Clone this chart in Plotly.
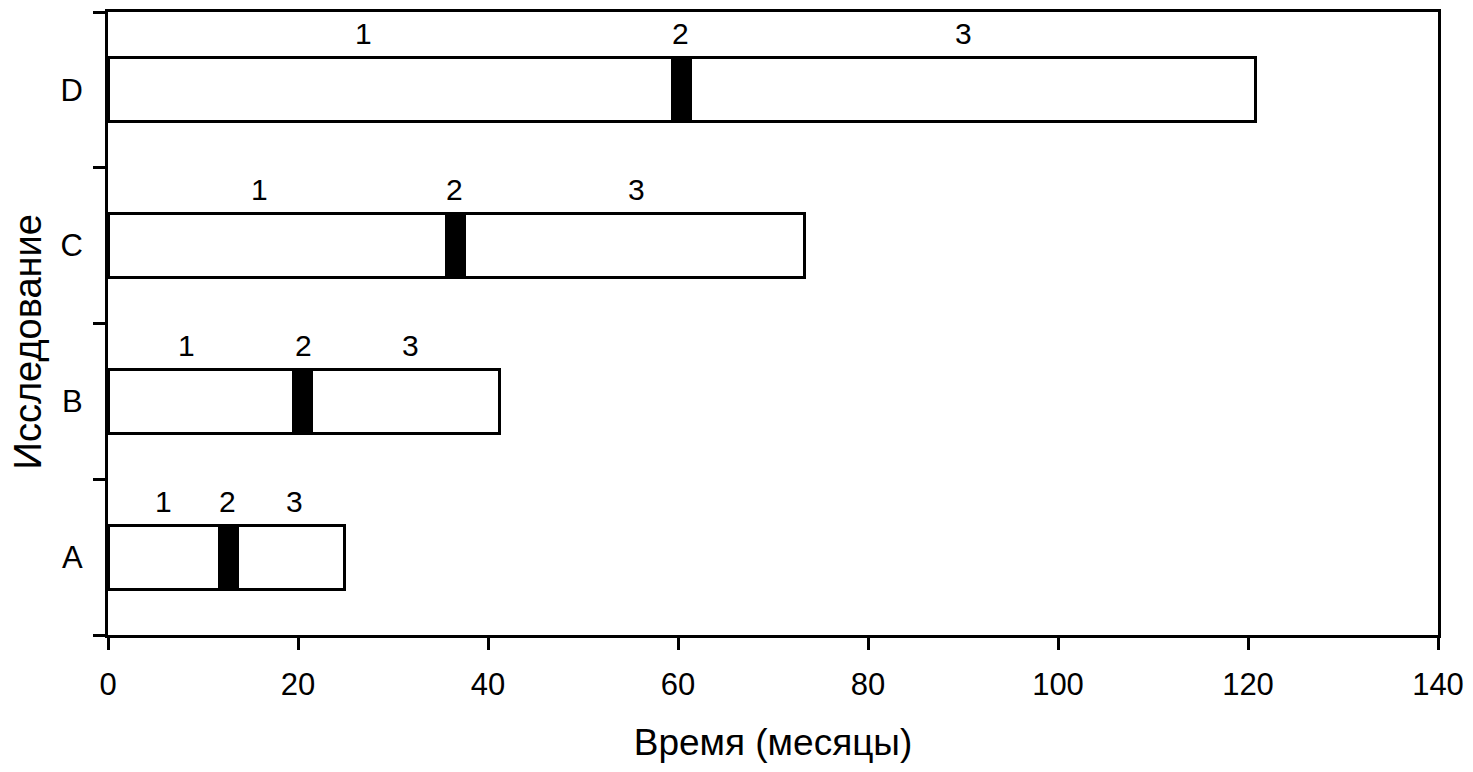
import plotly.graph_objects as go

studies = ["A", "B", "C", "D"]
phase1 = [11.7, 19.5, 35.6, 59.4]
phase2 = [1.9, 1.9, 1.9, 1.9]
phase3 = [11.3, 19.8, 35.8, 59.5]
label_names = ["1", "2", "3"]
label1_x = [5.8, 8.3, 15.9, 26.9]
label2_x = [12.6, 20.6, 36.5, 60.3]
label3_x = [19.6, 31.8, 55.6, 90.1]
x_ticks = [0, 20, 40, 60, 80, 100, 120, 140]

FONT = "Liberation Sans, Arial, sans-serif"

fig = go.Figure()
for vals, col in [(phase1, "white"), (phase2, "black"), (phase3, "white")]:
    fig.add_trace(go.Bar(
        y=studies, x=vals, orientation="h",
        marker=dict(color=col, line=dict(color="black", width=3)),
        width=0.41, showlegend=False, hoverinfo="skip",
    ))

for name, xs in zip(label_names, [label1_x, label2_x, label3_x]):
    for s, xv in zip(studies, xs):
        fig.add_annotation(x=xv, y=s, text=name, showarrow=False, yshift=56,
                           font=dict(family=FONT, size=30, color="black"))

fig.add_annotation(xref="paper", yref="paper", x=-0.06, y=0.47,
                   text="Исследование", textangle=-90, showarrow=False,
                   xanchor="center", yanchor="middle",
                   font=dict(family=FONT, size=38, color="black"))

fig.update_layout(
    barmode="stack",
    width=1473, height=772,
    margin=dict(l=108, r=30, t=9, b=137),
    plot_bgcolor="white", paper_bgcolor="white",
    font=dict(family=FONT, color="black", size=30),
    xaxis=dict(
        range=[0, 140], tickvals=x_ticks, showgrid=False, zeroline=False,
        showline=True, linecolor="black", linewidth=3, mirror=True,
        ticks="outside", ticklen=12, tickwidth=3, tickcolor="black",
        tickfont=dict(size=31), ticklabelstandoff=8,
        title=dict(text="Время (месяцы)", font=dict(size=37), standoff=28),
    ),
    yaxis=dict(
        type="category", categoryorder="array", categoryarray=studies,
        range=[-0.5, 3.5], showgrid=False, zeroline=False,
        showline=True, linecolor="black", linewidth=3, mirror=True,
        ticks="outside", ticklen=12, tickwidth=3, tickcolor="black",
        tickson="boundaries", tickfont=dict(size=31), ticklabelstandoff=16,
    ),
)

fig.write_html("out.html")
